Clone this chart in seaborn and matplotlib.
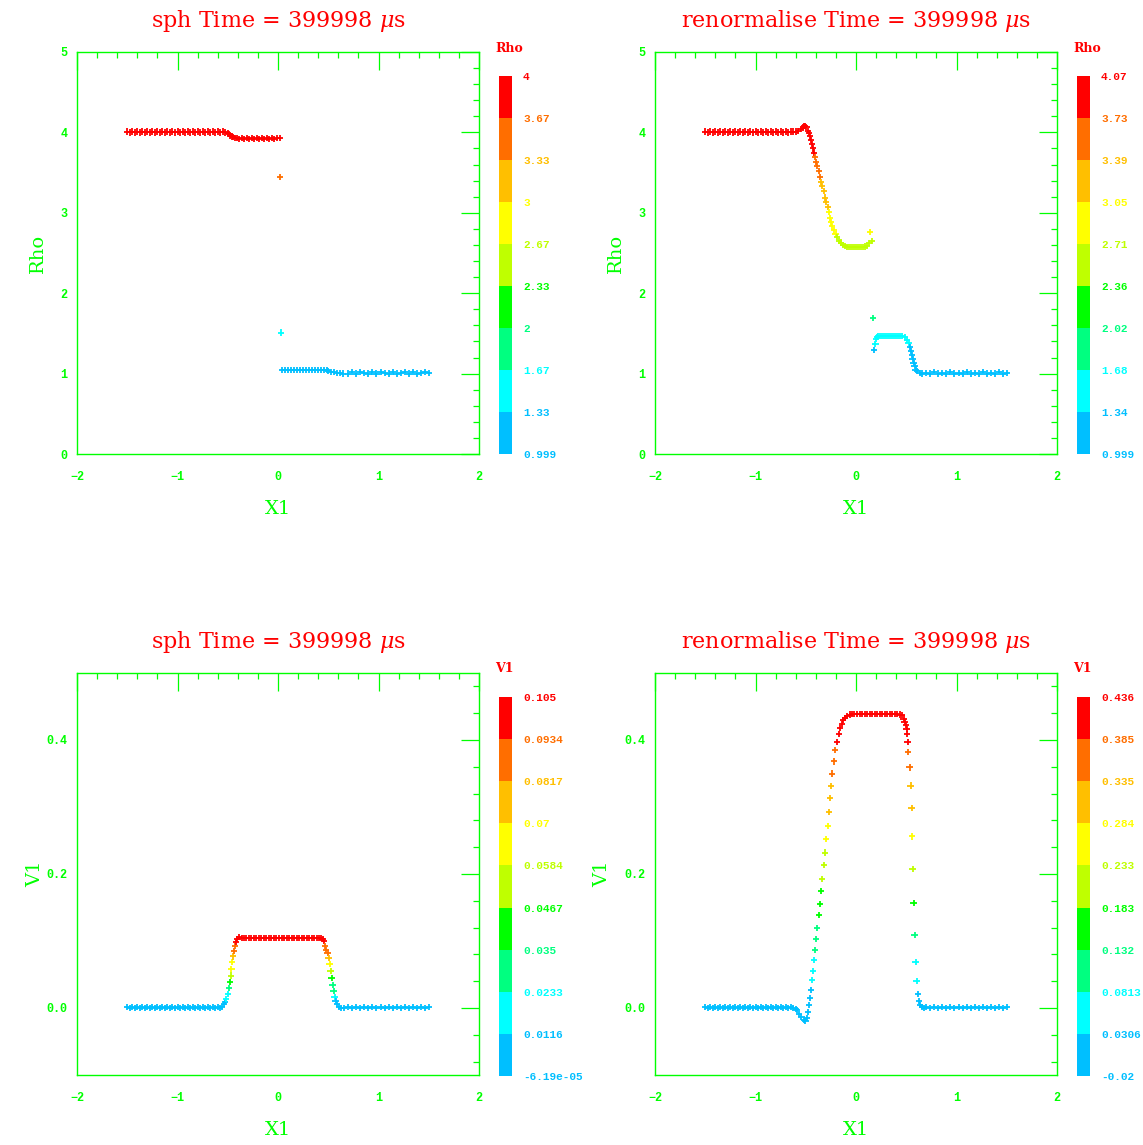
import numpy as np
import pandas as pd
import matplotlib
matplotlib.use("Agg")
import matplotlib.pyplot as plt
import seaborn as sns
from matplotlib.colors import ListedColormap, BoundaryNorm
from matplotlib.cm import ScalarMappable
from matplotlib.ticker import MultipleLocator, FormatStrFormatter

sns.set_style("white")
plt.rcParams["font.family"] = ["DejaVu Serif", "DejaVu Sans"]
plt.rcParams["mathtext.fontset"] = "dejavuserif"

GREEN = "#00ff00"
RED = "#ff0000"
bin_colors = ["#00bfff", "#00ffff", "#00ff80", "#00ff00", "#bfff00",
              "#ffff00", "#ffbf00", "#ff6e00", "#ff0000"]
cmap = ListedColormap(bin_colors)

# particle positions shared by all panels in the undisturbed states
x_left = [-1.500, -1.475, -1.450, -1.425, -1.400, -1.375, -1.350, -1.325,
          -1.300, -1.275, -1.250, -1.225, -1.200, -1.175, -1.150, -1.125,
          -1.100, -1.075, -1.050, -1.025, -1.000, -0.975, -0.950, -0.925,
          -0.900, -0.875, -0.850, -0.825, -0.800, -0.775, -0.750, -0.725,
          -0.700, -0.675, -0.650]
x_right = [0.70, 0.74, 0.78, 0.82, 0.86, 0.90, 0.94, 0.98, 1.02, 1.06, 1.10,
           1.14, 1.18, 1.22, 1.26, 1.30, 1.34, 1.38, 1.42, 1.46, 1.50]

# --- sph, density
sph_rho_left = [4.01, 4.00, 4.01, 4.00, 4.01, 4.00, 4.01, 4.00, 4.01, 4.00,
                4.01, 4.00, 4.01, 4.00, 4.01, 4.00, 4.01, 4.00, 4.01, 4.00,
                4.01, 4.00, 4.01, 4.00, 4.01, 4.00, 4.01, 4.00, 4.01, 4.00,
                4.01, 4.00, 4.01, 4.00, 4.01]
sph_rho_mid_x = [-0.625, -0.600, -0.575, -0.550, -0.525, -0.500, -0.490, -0.475,
                 -0.460, -0.445, -0.430, -0.410, -0.385, -0.360, -0.335, -0.310,
                 -0.285, -0.260, -0.235, -0.210, -0.185, -0.160, -0.135, -0.110,
                 -0.085, -0.060, -0.035, -0.010, 0.015, 0.023, 0.033,
                 0.040, 0.070, 0.100, 0.130, 0.160, 0.190, 0.220, 0.250, 0.280,
                 0.310, 0.340, 0.370, 0.400, 0.430, 0.460, 0.490,
                 0.500, 0.530, 0.560, 0.590, 0.620, 0.650]
sph_rho_mid_y = [4.00, 4.01, 4.00, 4.01, 4.00, 3.99, 3.98, 3.96,
                 3.95, 3.94, 3.935, 3.93, 3.92, 3.93, 3.92, 3.93,
                 3.92, 3.93, 3.92, 3.93, 3.92, 3.93, 3.92, 3.93,
                 3.92, 3.93, 3.92, 3.93, 3.93, 3.45, 1.51,
                 1.045, 1.045, 1.045, 1.045, 1.045, 1.045, 1.045, 1.045, 1.045,
                 1.045, 1.045, 1.045, 1.045, 1.045, 1.045, 1.04,
                 1.03, 1.02, 1.015, 1.01, 1.01, 1.00]
sph_rho_right = [1.00, 1.02, 1.00, 1.02, 1.01, 1.00, 1.02, 1.00, 1.02, 1.01,
                 1.00, 1.02, 1.00, 1.01, 1.02, 1.00, 1.02, 1.00, 1.01, 1.02,
                 1.01]

# --- renormalise, density
ren_rho_left = [4.01, 4.00, 4.01, 4.00, 4.01, 4.00, 4.01, 4.00, 4.01, 4.00,
                4.01, 4.00, 4.01, 4.00, 4.01, 4.00, 4.01, 4.00, 4.01, 4.00,
                4.01, 4.00, 4.01, 4.00, 4.01, 4.00, 4.01, 4.00, 4.01, 4.00,
                4.01, 4.00, 4.01, 4.00, 4.01]
ren_rho_mid_x = [-0.625, -0.600, -0.575, -0.550, -0.530, -0.515, -0.505,
                 -0.493, -0.477, -0.467, -0.457, -0.447, -0.437, -0.427, -0.417,
                 -0.407, -0.397, -0.387, -0.370, -0.357, -0.347, -0.337, -0.320,
                 -0.310, -0.297, -0.280, -0.267, -0.260, -0.247, -0.237, -0.217,
                 -0.203, -0.187, -0.167, -0.153, -0.133, -0.110, -0.090, -0.070,
                 -0.050, -0.030, -0.010, 0.010, 0.030, 0.050, 0.070, 0.090,
                 0.107, 0.133, 0.163, 0.143, 0.173, 0.183, 0.193, 0.197, 0.207,
                 0.220, 0.240, 0.260, 0.280, 0.300, 0.320, 0.340, 0.360, 0.380,
                 0.400, 0.420, 0.440, 0.460, 0.490, 0.507, 0.523, 0.540, 0.550,
                 0.557, 0.563, 0.573, 0.583, 0.593, 0.607, 0.633, 0.660]
ren_rho_mid_y = [4.01, 4.01, 4.02, 4.04, 4.06, 4.08, 4.08,
                 4.07, 4.02, 3.99, 3.95, 3.91, 3.86, 3.80, 3.75,
                 3.69, 3.63, 3.58, 3.52, 3.45, 3.38, 3.33, 3.27,
                 3.19, 3.13, 3.07, 3.01, 2.94, 2.88, 2.83, 2.78,
                 2.74, 2.70, 2.65, 2.63, 2.60, 2.59, 2.575, 2.57,
                 2.57, 2.57, 2.57, 2.57, 2.57, 2.57, 2.575, 2.58,
                 2.59, 2.62, 2.65, 2.76, 1.69, 1.29, 1.37, 1.43, 1.46,
                 1.47, 1.47, 1.47, 1.47, 1.47, 1.47, 1.47, 1.47, 1.47,
                 1.47, 1.47, 1.47, 1.465, 1.45, 1.42, 1.38, 1.33, 1.28,
                 1.23, 1.18, 1.13, 1.09, 1.05, 1.03, 1.01, 1.00]
ren_rho_right = [1.01, 1.00, 1.015, 1.00, 1.01, 1.00, 1.015, 1.00, 1.01, 1.00,
                 1.015, 1.00, 1.01, 1.00, 1.015, 1.00, 1.01, 1.00, 1.015, 1.00,
                 1.01]

# --- sph, velocity
sph_v_left = [0.0015, -0.0005, 0.001, 0.0, 0.0015, -0.0005, 0.001, 0.0,
              0.0015, -0.0005, 0.001, 0.0, 0.0015, -0.0005, 0.001, 0.0,
              0.0015, -0.0005, 0.001, 0.0, 0.0015, -0.0005, 0.001, 0.0,
              0.0015, -0.0005, 0.001, 0.0, 0.0015, -0.0005, 0.001, 0.0,
              0.0015, -0.0005, 0.001]
sph_v_mid_x = [-0.625, -0.600, -0.575, -0.555, -0.537, -0.527, -0.517, -0.497,
               -0.487, -0.477, -0.470, -0.463, -0.457, -0.447, -0.437, -0.427,
               -0.417, -0.403, -0.387, -0.363, -0.340, -0.315, -0.290, -0.265,
               -0.240, -0.215, -0.190, -0.165, -0.140, -0.115, -0.090, -0.065,
               -0.040, -0.015, 0.010, 0.035, 0.060, 0.085, 0.110, 0.135, 0.160,
               0.185, 0.210, 0.235, 0.260, 0.285, 0.310, 0.335, 0.360, 0.385,
               0.410, 0.430, 0.443, 0.457, 0.467, 0.480, 0.493, 0.503, 0.513,
               0.523, 0.533, 0.543, 0.553, 0.563, 0.573, 0.587, 0.607, 0.630,
               0.660]
sph_v_mid_y = [0.0, 0.001, 0.0, 0.002, 0.0055, 0.0085, 0.014, 0.0205,
               0.0295, 0.0385, 0.0485, 0.0585, 0.0685, 0.077, 0.085, 0.0925,
               0.0985, 0.103, 0.106, 0.105, 0.1045, 0.104, 0.1045, 0.104,
               0.1045, 0.104, 0.1045, 0.104, 0.1045, 0.104, 0.1045, 0.104,
               0.1045, 0.104, 0.1045, 0.104, 0.1045, 0.104, 0.1045, 0.104, 0.1045,
               0.104, 0.1045, 0.104, 0.1045, 0.104, 0.1045, 0.104, 0.1045, 0.104,
               0.1045, 0.104, 0.103, 0.0995, 0.093, 0.0865, 0.082, 0.0745, 0.0655,
               0.055, 0.0445, 0.034, 0.025, 0.016, 0.011, 0.006, 0.002, 0.0005,
               0.0]
sph_v_right = [0.001, -0.0005, 0.0015, 0.0, 0.001, -0.0005, 0.0015, 0.0,
               0.001, -0.0005, 0.0015, 0.0, 0.001, -0.0005, 0.0015, 0.0,
               0.001, -0.0005, 0.0015, 0.0, 0.001]

# --- renormalise, velocity
ren_v_left = [0.001, 0.0, 0.0015, -0.0005, 0.001, 0.0, 0.0015, -0.0005,
              0.001, 0.0, 0.0015, -0.0005, 0.001, 0.0, 0.0015, -0.0005,
              0.001, 0.0, 0.0015, -0.0005, 0.001, 0.0, 0.0015, -0.0005,
              0.001, 0.0, 0.0015, -0.0005, 0.001, 0.0, 0.0015, -0.0005,
              0.001, 0.0, 0.001]
ren_v_mid_x = [-0.625, -0.600, -0.585, -0.567, -0.543, -0.520, -0.503, -0.490,
               -0.477, -0.467, -0.457, -0.447, -0.437, -0.427, -0.417, -0.407,
               -0.397, -0.387, -0.367, -0.357, -0.347, -0.337, -0.320, -0.310,
               -0.297, -0.277, -0.267, -0.257, -0.247, -0.237, -0.217, -0.207,
               -0.187, -0.167, -0.157, -0.143, -0.130, -0.110, -0.087, -0.060,
               -0.040, -0.015, 0.010, 0.035, 0.060, 0.085, 0.110, 0.135, 0.160,
               0.185, 0.210, 0.235, 0.260, 0.285, 0.310, 0.335, 0.360, 0.385,
               0.410, 0.435, 0.457, 0.473, 0.483, 0.497, 0.503, 0.510, 0.513,
               0.520, 0.533, 0.543, 0.553, 0.555, 0.563, 0.573, 0.583, 0.593,
               0.603, 0.613, 0.623, 0.637, 0.657, 0.680]
ren_v_mid_y = [0.0, -0.001, -0.003, -0.0095, -0.014, -0.018, -0.0195, -0.015,
               -0.0065, 0.004, 0.0145, 0.0265, 0.0415, 0.055, 0.0715, 0.0865,
               0.103, 0.1195, 0.139, 0.1555, 0.175, 0.193, 0.214, 0.232,
               0.252, 0.272, 0.292, 0.313, 0.331, 0.350, 0.368, 0.385,
               0.397, 0.409, 0.418, 0.424, 0.430, 0.433, 0.436, 0.438,
               0.439, 0.4385, 0.439, 0.4385, 0.439, 0.4385, 0.439, 0.4385, 0.439,
               0.4385, 0.439, 0.4385, 0.439, 0.4385, 0.439, 0.4385, 0.439, 0.4385,
               0.439, 0.438, 0.437, 0.432, 0.427, 0.422, 0.417, 0.409, 0.397,
               0.382, 0.359, 0.332, 0.298, 0.256, 0.208, 0.157, 0.109, 0.0685,
               0.040, 0.0205, 0.010, 0.004, 0.001, 0.0]
ren_v_right = [0.001, 0.0, 0.0015, -0.0005, 0.001, 0.0, 0.0015, -0.0005,
               0.001, 0.0, 0.0015, -0.0005, 0.001, 0.0, 0.0015, -0.0005,
               0.001, 0.0, 0.0015, -0.0005, 0.001]

rho_sph_ticks = ["0.999", "1.33", "1.67", "2", "2.33", "2.67", "3", "3.33", "3.67", "4"]
rho_ren_ticks = ["0.999", "1.34", "1.68", "2.02", "2.36", "2.71", "3.05", "3.39", "3.73", "4.07"]
v_sph_ticks = ["-6.19e-05", "0.0116", "0.0233", "0.035", "0.0467", "0.0584",
               "0.07", "0.0817", "0.0934", "0.105"]
v_ren_ticks = ["-0.02", "0.0306", "0.0813", "0.132", "0.183", "0.233",
               "0.284", "0.335", "0.385", "0.436"]

title_sph = "sph Time = 399998 $\\mu$s"
title_ren = "renormalise Time = 399998 $\\mu$s"

W, H = 1143, 1145
panels = [
    dict(x=x_left + sph_rho_mid_x + x_right, y=sph_rho_left + sph_rho_mid_y + sph_rho_right,
         title=title_sph, name="Rho", ylim=(0, 5), crange=(0.999, 4.0), cticks=rho_sph_ticks,
         ax_px=(77, 52), cb_px=(499, 76, 454), lab_x=-0.075, top=True),
    dict(x=x_left + ren_rho_mid_x + x_right, y=ren_rho_left + ren_rho_mid_y + ren_rho_right,
         title=title_ren, name="Rho", ylim=(0, 5), crange=(0.999, 4.07), cticks=rho_ren_ticks,
         ax_px=(655, 52), cb_px=(1077, 76, 454), lab_x=-0.075, top=True),
    dict(x=x_left + sph_v_mid_x + x_right, y=sph_v_left + sph_v_mid_y + sph_v_right,
         title=title_sph, name="V1", ylim=(-0.1, 0.5), crange=(-6.19e-05, 0.105), cticks=v_sph_ticks,
         ax_px=(77, 673), cb_px=(499, 697, 1076), lab_x=-0.082, top=False),
    dict(x=x_left + ren_v_mid_x + x_right, y=ren_v_left + ren_v_mid_y + ren_v_right,
         title=title_ren, name="V1", ylim=(-0.1, 0.5), crange=(-0.02, 0.436), cticks=v_ren_ticks,
         ax_px=(655, 673), cb_px=(1077, 697, 1076), lab_x=-0.109, top=False),
]

fig = plt.figure(figsize=(W / 100, H / 100), dpi=100)
fig.patch.set_facecolor("white")

for p in panels:
    left, top = p["ax_px"]
    ax = fig.add_axes([left / W, 1 - (top + 402) / H, 402 / W, 402 / H])
    bounds = np.linspace(p["crange"][0], p["crange"][1], 10)
    norm = BoundaryNorm(bounds, cmap.N)
    df = pd.DataFrame({"X1": p["x"], p["name"]: p["y"]})
    sns.scatterplot(data=df, x="X1", y=p["name"], hue=p["name"], palette=cmap,
                    hue_norm=norm, marker="+", s=20, linewidth=1.3,
                    legend=False, ax=ax)

    ax.set_xlim(-2, 2)
    ax.set_ylim(*p["ylim"])
    ax.xaxis.set_major_locator(MultipleLocator(1))
    ax.xaxis.set_minor_locator(MultipleLocator(0.2))
    if p["top"]:
        ax.yaxis.set_major_locator(MultipleLocator(1))
        ax.yaxis.set_minor_locator(MultipleLocator(0.2))
    else:
        ax.yaxis.set_major_locator(MultipleLocator(0.2))
        ax.yaxis.set_minor_locator(MultipleLocator(0.04))
        ax.yaxis.set_major_formatter(FormatStrFormatter("%.1f"))
    ax.set_facecolor("white")
    for s in ax.spines.values():
        s.set_visible(True)
        s.set_color(GREEN)
        s.set_linewidth(1.0)
    ax.tick_params(which="both", direction="in", top=True, right=True,
                   color=GREEN, labelcolor=GREEN, labelsize=8.5,
                   labelfontfamily="Liberation Mono", width=0.9)
    ax.tick_params(which="major", length=13)
    ax.tick_params(which="minor", length=4.3)
    ax.tick_params(axis="x", pad=12)
    ax.tick_params(axis="y", pad=7)
    for lab in ax.get_xticklabels() + ax.get_yticklabels():
        lab.set_fontweight("bold")

    ax.set_title(p["title"], color=RED, fontsize=16, pad=18)
    ax.set_xlabel("X1", color=GREEN, fontsize=14)
    ax.set_ylabel(p["name"], color=GREEN, fontsize=14)
    ax.xaxis.set_label_coords(0.5, -0.114)
    ax.yaxis.set_label_coords(p["lab_x"], 0.5)

    cl, ct, cb_bot = p["cb_px"]
    cax = fig.add_axes([cl / W, 1 - cb_bot / H, 13 / W, (cb_bot - ct) / H])
    cb = fig.colorbar(ScalarMappable(norm=norm, cmap=cmap), cax=cax)
    cb.outline.set_visible(False)
    cb.set_ticks(bounds, labels=p["cticks"])
    cax.tick_params(length=0, pad=8)
    for i, lab in enumerate(cax.get_yticklabels()):
        lab.set_color(bin_colors[max(i - 1, 0)])
        lab.set_fontfamily("Liberation Mono")
        lab.set_fontweight("bold")
        lab.set_fontsize(8)
    fig.text((cl - 4) / W, 1 - (ct - 28) / H, p["name"], color=RED,
             fontsize=9, fontweight="bold", ha="left", va="center")

fig.savefig("out.png", dpi=100, facecolor="white")
